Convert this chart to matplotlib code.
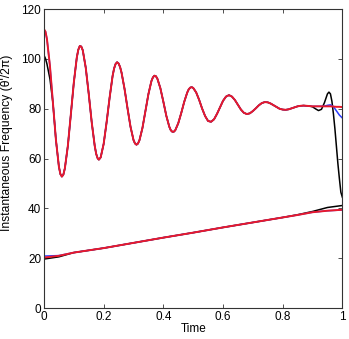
import numpy as np
import matplotlib
matplotlib.use("Agg")
import matplotlib.pyplot as plt

plt.rcParams['font.family'] = ['Liberation Sans', 'DejaVu Sans']

# upper (oscillating) component, read every 0.01
t_grid = np.arange(0, 101) / 100.0
up_grid = [112.0, 108.0, 97.2, 82.4, 67.6, 56.8, 52.8, 56.1, 65.1, 77.7,
           90.5, 100.6, 105.2, 103.5, 96.5, 86.0, 74.6, 65.2, 60.1, 60.5,
           65.9, 74.7, 84.5, 93.2, 98.0, 98.2, 94.5, 88.0, 80.2, 72.8,
           67.5, 65.6, 67.4, 72.3, 79.1, 85.9, 91.1, 93.3, 92.1, 88.3,
           82.9, 77.2, 72.8, 70.8, 71.4, 74.2, 78.3, 82.8, 86.5, 88.5,
           88.4, 86.6, 83.6, 80.1, 77.1, 75.1, 74.8, 75.8, 78.0, 80.6,
           83.2, 84.9, 85.5, 84.9, 83.5, 81.6, 79.7, 78.4, 77.9, 78.2,
           79.1, 80.2, 81.4, 82.3, 82.7, 82.6, 82.1, 81.4, 80.7, 80.0,
           79.7, 79.6, 79.8, 80.2, 80.6, 81.0, 81.2, 81.3, 81.2, 81.1,
           81.0, 81.0, 81.0, 81.0, 81.0, 81.0, 81.0, 80.9, 80.8, 80.8, 80.7]
# extra readings around the peaks and troughs
t_extra = [0.005, 0.055, 0.065, 0.115, 0.125, 0.175, 0.184, 0.235, 0.245,
           0.255, 0.305, 0.315, 0.365, 0.375, 0.425, 0.435, 0.485, 0.495]
up_extra = [111.0, 53.8, 53.6, 103.7, 105.0, 61.9, 59.6, 96.2, 98.7,
            96.8, 66.1, 66.05, 92.6, 93.1, 71.4, 70.8, 87.8, 88.7]

t_up = np.concatenate([t_grid, t_extra])
up_red = np.concatenate([up_grid, up_extra])
order = np.argsort(t_up)
t_up, up_red = t_up[order], up_red[order]

# blue: starts a bit lower and bends down at the end
t_blue_tail = [0.94, 0.95, 0.96, 0.97, 0.98, 0.99, 1.0]
blue_tail = [81.1, 81.4, 81.6, 80.9, 79.2, 77.5, 76.3]
keep = t_up < 0.94
t_up_blue = np.concatenate([t_up[keep], t_blue_tail])
up_blue = np.concatenate([up_red[keep], blue_tail])
up_blue[0] = 111.0

# black: starts near 101, wiggles and falls at the end
t_black_head = [0.0, 0.005, 0.01, 0.02]
black_head = [101.5, 100.2, 98.0, 92.0]
t_black_tail = [0.89, 0.90, 0.91, 0.92, 0.93, 0.94, 0.95, 0.955, 0.96,
                0.965, 0.97, 0.975, 0.98, 0.985, 0.99, 0.995, 1.0]
black_tail = [81.1, 80.8, 80.0, 79.3, 79.8, 82.5, 86.0, 86.7, 86.0,
              83.0, 78.0, 72.0, 65.0, 58.0, 52.0, 46.5, 44.5]
mid = (t_up >= 0.03) & (t_up < 0.89)
t_up_black = np.concatenate([t_black_head, t_up[mid], t_black_tail])
up_black = np.concatenate([black_head, up_red[mid], black_tail])

# lower (chirp) component
t_lo = [0, 0.05, 0.1, 0.2, 0.3, 0.4, 0.5, 0.6, 0.7, 0.8, 0.85, 0.9, 0.95, 1.0]
lo_red = [20.3, 21.0, 22.3, 24.1, 26.2, 28.3, 30.3, 32.4, 34.4, 36.4, 37.4, 38.5, 39.1, 39.5]
lo_blue = [20.9, 21.1, 22.3, 24.1, 26.2, 28.3, 30.3, 32.4, 34.4, 36.4, 37.4, 38.5, 39.1, 39.4]
lo_black = [19.7, 20.6, 22.3, 24.1, 26.2, 28.3, 30.3, 32.4, 34.4, 36.4, 37.5, 38.8, 40.4, 41.2]

fig = plt.figure(figsize=(3.49, 3.39), dpi=100)
ax = fig.add_axes([0.126, 0.091, 0.855, 0.882])

ax.plot(t_up_black, up_black, color="black", lw=1.1)
ax.plot(t_lo, lo_black, color="black", lw=1.1)
ax.plot(t_up_blue, up_blue, color="#2b3cff", lw=1.1)
ax.plot(t_lo, lo_blue, color="#2b3cff", lw=1.1)
ax.plot(t_up, up_red, color="#e8192c", lw=1.4)
ax.plot(t_lo, lo_red, color="#e8192c", lw=1.4)

ax.set_xlim(0, 1)
ax.set_ylim(0, 120)
ax.set_xticks([0, 0.2, 0.4, 0.6, 0.8, 1])
ax.set_xticklabels(["0", "0.2", "0.4", "0.6", "0.8", "1"])
ax.set_yticks([0, 20, 40, 60, 80, 100, 120])
ax.tick_params(direction="in", top=True, right=True, length=3, width=0.6,
               labelsize=8.5, pad=2, color="#333333")
for s in ax.spines.values():
    s.set_linewidth(0.8)
    s.set_color("#333333")
ax.set_xlabel("Time", fontsize=8.5, labelpad=0)
ax.set_ylabel("Instantaneous Frequency (θ'/2π)", fontsize=8.7)
ax.yaxis.set_label_coords(-0.104, 0.552)

fig.savefig("out.png", dpi=100)
